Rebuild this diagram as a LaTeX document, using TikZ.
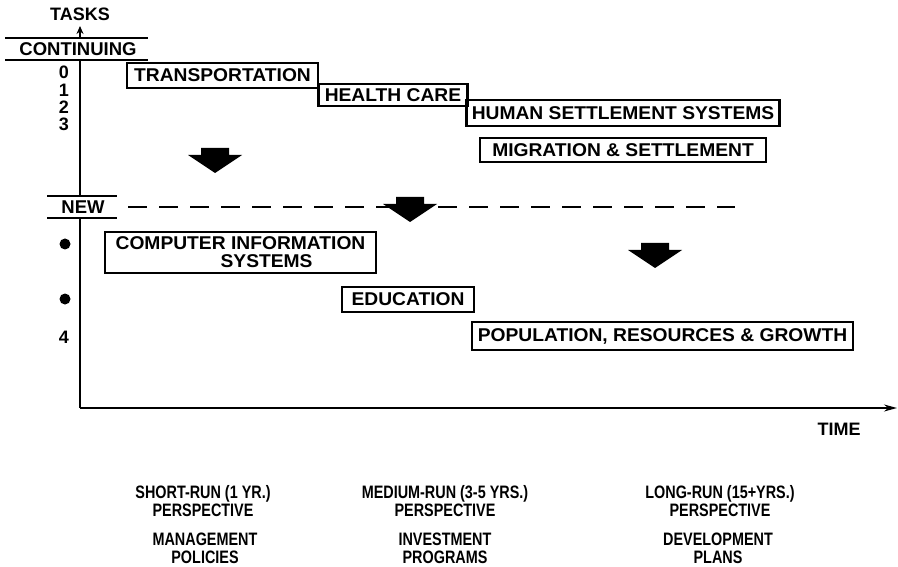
\documentclass[tikz,border=0pt]{standalone}
\usepackage{fontspec}
\setmainfont{Liberation Sans}
\newfontfamily\condfont[FakeStretch=0.8]{Liberation Sans}
\newfontfamily\widefont[FakeStretch=1.04]{Liberation Sans}
\usetikzlibrary{arrows.meta}
\tikzset{
  taskbox/.style={draw, line width=2.8pt, inner sep=0pt, font=\widefont\bfseries\fontsize{18.5}{18}\selectfont},
  axislabel/.style={font=\bfseries\fontsize{18.5}{18}\selectfont, inner sep=0pt},
  ticklabel/.style={font=\bfseries\fontsize{18}{18}\selectfont, inner sep=0pt},
  bottomtext/.style={font=\condfont\bfseries\fontsize{18}{18}\selectfont, align=center, inner sep=0pt},
  rule/.style={line width=1.3pt},
  axisline/.style={line width=1.5pt},
  blockarrow/.pic={\fill (-14,0) -- (14,0) -- (14,7) -- (27,7) -- (0,25) -- (-27,7) -- (-14,7) -- cycle;}
}
\begin{document}
\begin{tikzpicture}[x=1pt,y=-1pt]
\useasboundingbox (0,0) rectangle (898,567);

% axis labels
\node[ticklabel] (tasks) at (80,14) {TASKS};
\node[axislabel] (cont) at (78,49) {CONTINUING};
\node[axislabel] (new) at (83,207) {NEW};
\draw[rule] (5,38) -- (148,38);
\draw[rule] (5,60) -- (148,60);
\draw[rule] (47,196) -- (117,196);
\draw[rule] (47,218) -- (117,218);

% axes
\coordinate (origin) at (80,408);
\coordinate (ytop) at (80,26);
\coordinate (ybase) at (80,38);
\coordinate (c1) at (80,60);
\coordinate (c2) at (80,196);
\coordinate (c3) at (80,218);
\coordinate (xend) at (897,408);
\draw[axisline,-{Stealth[length=8pt,width=7pt]}] (ybase) -- (ytop);
\draw[axisline] (c1) -- (c2);
\draw[axisline] (c3) -- (origin);
\draw[axisline,-{Stealth[length=13pt,width=7pt]}] (origin) -- (xend);
\node[ticklabel] (time) at (839,429) {TIME};

% tick labels
\node[ticklabel] (t0) at (64,72) {0};
\node[ticklabel] (t1) at (64,90) {1};
\node[ticklabel] (t2) at (64,107) {2};
\node[ticklabel] (t3) at (64,124) {3};
\fill (65,244) circle (5.5);
\fill (65,299) circle (5.5);
\node[ticklabel] (t4) at (64,337) {4};

% continuing tasks
\node[taskbox, minimum width=191, minimum height=25] (trans) at (222.5,75.5) {TRANSPORTATION};
\node[taskbox, minimum width=149, minimum height=22] (health) at (393,95) {HEALTH CARE};
\node[taskbox, minimum width=313, minimum height=26] (human) at (623,113) {HUMAN SETTLEMENT SYSTEMS};
\node[taskbox, minimum width=286, minimum height=24] (migr) at (623,150) {MIGRATION \& SETTLEMENT};

% dashed separator
\coordinate (d1) at (128,207);
\coordinate (d2) at (735,207);
\draw[line width=2.8pt, dash pattern=on 19pt off 12pt] (d1) -- (d2);

% block arrows
\pic at (215,148) {blockarrow};
\pic at (410,197) {blockarrow};
\pic at (655,243) {blockarrow};

% new tasks
\node[taskbox, minimum width=271, minimum height=41, align=left] (comp) at (240.5,252.5) {COMPUTER INFORMATION\\\hspace*{105pt}SYSTEMS};
\node[taskbox, minimum width=132, minimum height=25] (edu) at (408,299.5) {EDUCATION};
\node[taskbox, minimum width=381, minimum height=28] (pop) at (662.5,336) {POPULATION, RESOURCES \& GROWTH};

% bottom texts
\node[bottomtext] (short) at (203,501) {SHORT-RUN (1 YR.)\\PERSPECTIVE};
\node[bottomtext] (medium) at (445,501) {MEDIUM-RUN (3-5 YRS.)\\PERSPECTIVE};
\node[bottomtext] (long) at (720,501) {LONG-RUN (15+YRS.)\\PERSPECTIVE};
\node[bottomtext] (manag) at (205,548) {MANAGEMENT\\POLICIES};
\node[bottomtext] (invest) at (445,548) {INVESTMENT\\PROGRAMS};
\node[bottomtext] (devel) at (718,548) {DEVELOPMENT\\PLANS};
\end{tikzpicture}
\end{document}
